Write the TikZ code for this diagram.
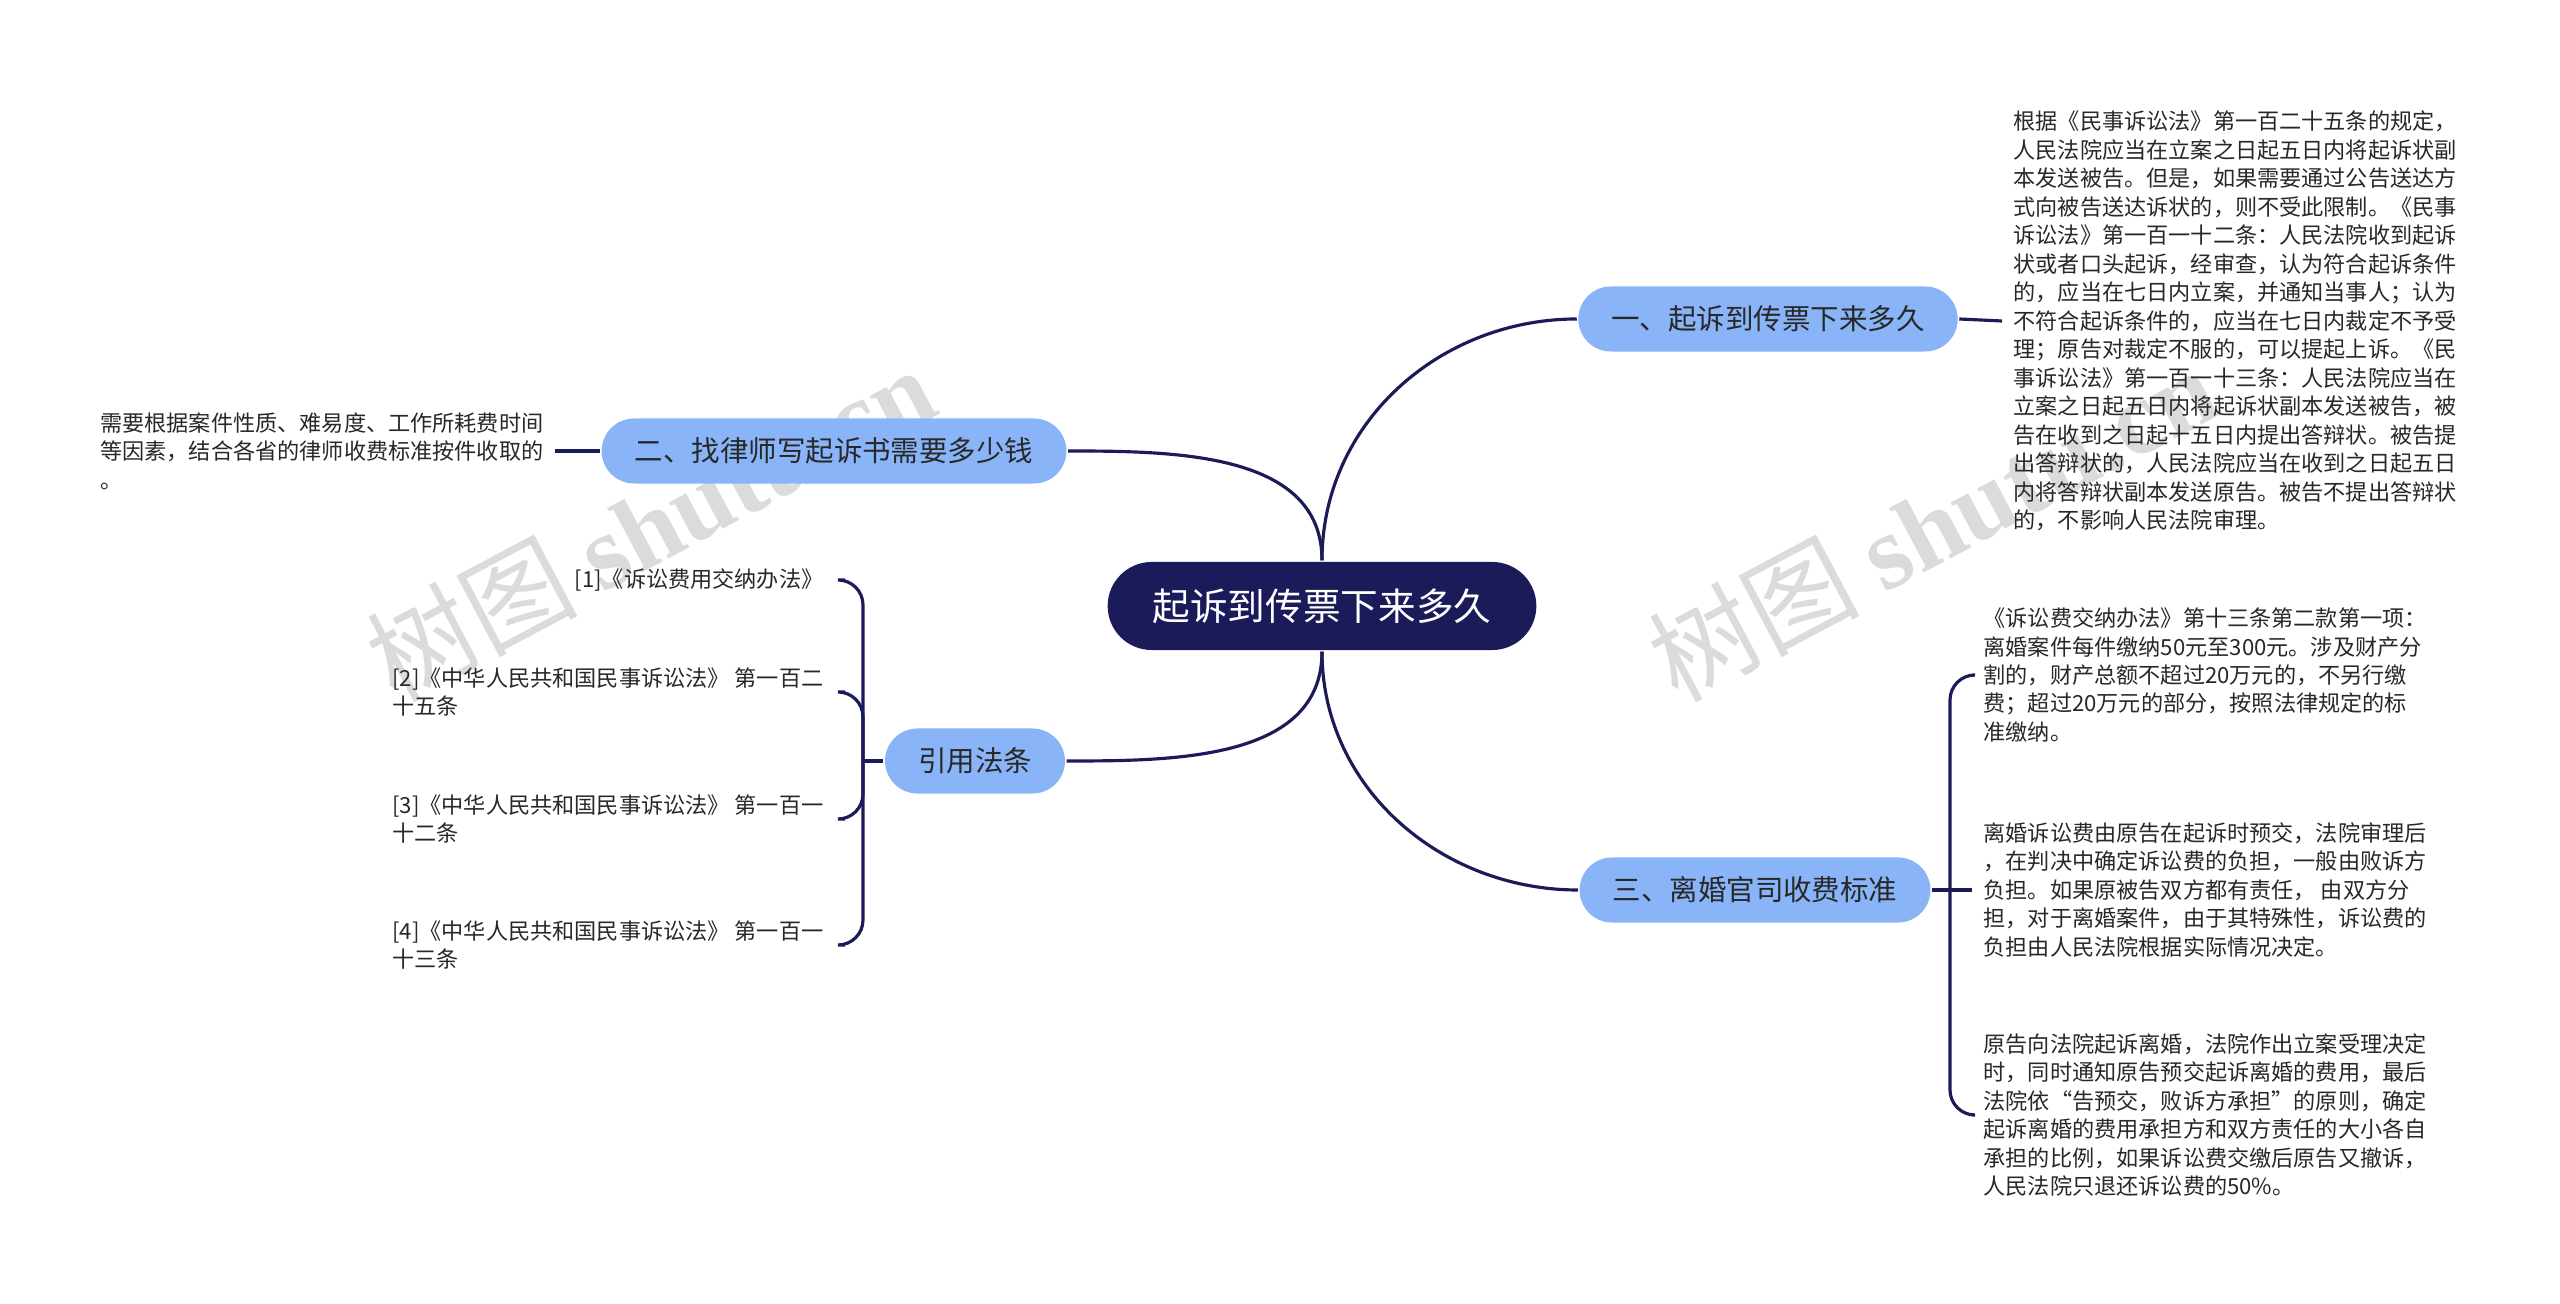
\documentclass[tikz,border=0pt]{standalone}
\usepackage{fontspec}
\setmainfont{Noto Sans CJK SC}
\newfontfamily\wmlatin{Liberation Serif}
\definecolor{navy}{RGB}{27,27,90}
\definecolor{topicblue}{RGB}{137,180,247}
\definecolor{inkgray}{RGB}{40,40,40}

\begin{document}
\begin{tikzpicture}[x=0.01cm,y=-0.01cm,line width=0.9pt,
  root/.style={fill=navy,text=white,rounded corners=0.44cm,minimum height=0.88cm,
    inner xsep=0.45cm,font=\fontsize{10.7pt}{12pt}\selectfont},
  topic/.style={fill=topicblue,text=inkgray,rounded corners=0.325cm,minimum height=0.65cm,
    inner xsep=0.33cm,font=\fontsize{8.1pt}{10pt}\selectfont},
  note/.style={text=inkgray,align=left,inner sep=0.1cm,font=\fontsize{6.3pt}{8.1pt}\selectfont},
  link/.style={draw=navy,line width=0.9pt},
  wmark/.style={text=black!14,rotate=28,font=\fontsize{30pt}{30pt}\selectfont}]
  \fill[white] (0,0) rectangle (2560,1304);
  \useasboundingbox (0,0) rectangle (2560,1304);
  \node[wmark] (wm1) at (650,523) {树图 {\wmlatin\bfseries shutu.cn}};
  \node[wmark] (wm2) at (1932,523) {树图 {\wmlatin\bfseries shutu.cn}};

  \node[root] (c) at (1322,606) {起诉到传票下来多久};
  \node[topic] (b1) at (1768,319) {一、起诉到传票下来多久};
  \node[topic] (b2) at (834,451) {二、找律师写起诉书需要多少钱};
  \node[topic] (b3) at (1755,890) {三、离婚官司收费标准};
  \node[topic] (b4) at (975,761) {引用法条};

  \node[note,anchor=west] (t1) at (2002,321) {根据《民事诉讼法》第一百二十五条的规定，\\
    人民法院应当在立案之日起五日内将起诉状副\\
    本发送被告。但是，如果需要通过公告送达方\\
    式向被告送达诉状的，则不受此限制。《民事\\
    诉讼法》第一百一十二条：人民法院收到起诉\\
    状或者口头起诉，经审查，认为符合起诉条件\\
    的，应当在七日内立案，并通知当事人；认为\\
    不符合起诉条件的，应当在七日内裁定不予受\\
    理；原告对裁定不服的，可以提起上诉。《民\\
    事诉讼法》第一百一十三条：人民法院应当在\\
    立案之日起五日内将起诉状副本发送被告，被\\
    告在收到之日起十五日内提出答辩状。被告提\\
    出答辩状的，人民法院应当在收到之日起五日\\
    内将答辩状副本发送原告。被告不提出答辩状\\
    的，不影响人民法院审理。};
  \node[note,anchor=east] (t2) at (555,451) {需要根据案件性质、难易度、工作所耗费时间\\
    等因素，结合各省的律师收费标准按件收取的\\
    。};

  \coordinate (j3) at (1950,890);
  \node[note,anchor=west] (c31) at (1972,675) {《诉讼费交纳办法》第十三条第二款第一项：\\
    离婚案件每件缴纳50元至300元。涉及财产分\\
    割的，财产总额不超过20万元的，不另行缴\\
    费；超过20万元的部分，按照法律规定的标\\
    准缴纳。};
  \node[note,anchor=west] (c32) at (1972,890) {离婚诉讼费由原告在起诉时预交，法院审理后\\
    ，在判决中确定诉讼费的负担，一般由败诉方\\
    负担。如果原被告双方都有责任， 由双方分\\
    担，对于离婚案件，由于其特殊性，诉讼费的\\
    负担由人民法院根据实际情况决定。};
  \node[note,anchor=west] (c33) at (1972,1115) {原告向法院起诉离婚，法院作出立案受理决定\\
    时，同时通知原告预交起诉离婚的费用，最后\\
    法院依“告预交，败诉方承担”的原则，确定\\
    起诉离婚的费用承担方和双方责任的大小各自\\
    承担的比例，如果诉讼费交缴后原告又撤诉，\\
    人民法院只退还诉讼费的50\%。};

  \coordinate (j4) at (863,761);
  \node[note,anchor=east,inner xsep=0.2cm] (r1) at (845,580) {[1]《诉讼费用交纳办法》};
  \node[note,anchor=east,inner xsep=0.2cm] (r2) at (845,692) {[2]《中华人民共和国民事诉讼法》 第一百二\\十五条};
  \node[note,anchor=east,inner xsep=0.2cm] (r3) at (845,819) {[3]《中华人民共和国民事诉讼法》 第一百一\\十二条};
  \node[note,anchor=east,inner xsep=0.2cm] (r4) at (845,945) {[4]《中华人民共和国民事诉讼法》 第一百一\\十三条};

  \draw[link] (c) to[out=90,in=180] (b1);
  \draw[link] (c) to[out=90,in=0] (b2);
  \draw[link] (c) to[out=-90,in=180] (b3);
  \draw[link] (c) to[out=-90,in=0] (b4);
  \draw[link] (b1.east) -- (t1.west);
  \draw[link] (b2.west) -- (t2.east);
  \draw[link] (b3.east) -- (j3);
  \draw[link,rounded corners=0.25cm] (j3) |- (c31.west);
  \draw[link] (j3) -- (c32.west);
  \draw[link,rounded corners=0.25cm] (j3) |- (c33.west);
  \draw[link] (b4.west) -- (j4);
  \draw[link,rounded corners=0.25cm] (j4) |- (r1.east);
  \draw[link,rounded corners=0.25cm] (j4) |- (r2.east);
  \draw[link,rounded corners=0.25cm] (j4) |- (r3.east);
  \draw[link,rounded corners=0.25cm] (j4) |- (r4.east);
\end{tikzpicture}
\end{document}
